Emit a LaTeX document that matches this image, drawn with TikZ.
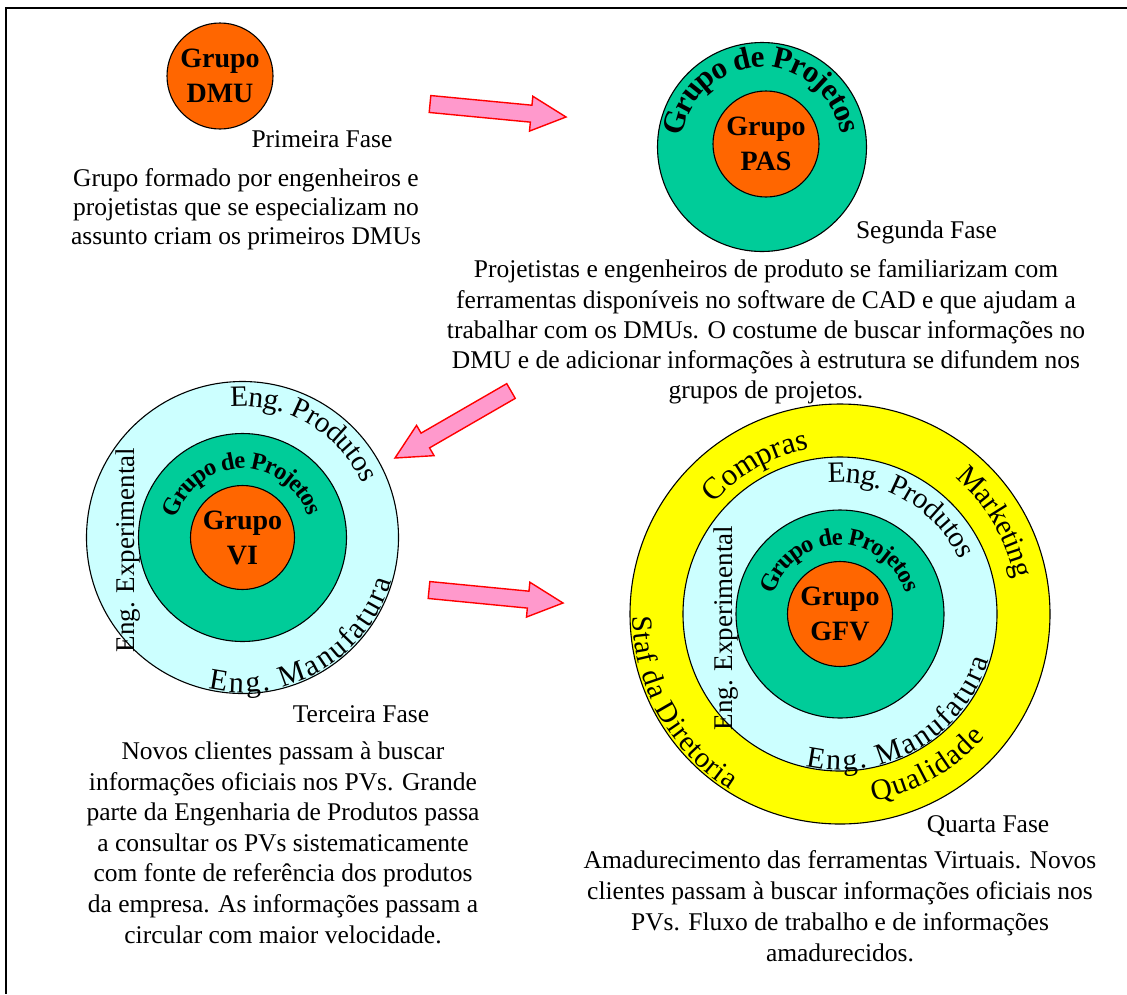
\documentclass[tikz,border=0pt]{standalone}
\usepackage{fontspec}
\setmainfont{Liberation Serif}
\usetikzlibrary{calc,decorations.text}
\definecolor{orangeC}{HTML}{FF6600}
\definecolor{greenC}{HTML}{00CC99}
\definecolor{cyanC}{HTML}{CCFFFF}
\definecolor{yellowC}{HTML}{FFFF00}
\definecolor{pinkC}{HTML}{FF99CC}
\definecolor{redC}{HTML}{FF0000}
\tikzset{
  ring/.style={draw=black, line width=1.1pt},
  fase/.style={font=\fontsize{25.5}{30.5}\selectfont, inner sep=0pt, anchor=base},
  desc/.style={font=\fontsize{25.5}{#1}\selectfont, align=center, inner sep=0pt, anchor=north},
  grp/.style={font=\fontsize{28}{35}\selectfont\bfseries, align=center, inner sep=0pt},
  vlabel/.style={font=\fontsize{27}{27}\selectfont, inner sep=0pt, rotate=90},
  blockarrowstyle/.style={fill=pinkC, draw=redC, line width=1.4pt, line join=miter},
  arctext/.style 2 args={decorate, decoration={text along path, text align=fit to path, raise=#2, text={#1}}},
}
\newcommand\myblockarrow[2]{%
  \path ($(#2)!35pt!(#1)$) coordinate (#1n);
  \draw[blockarrowstyle]
    ($(#1)!8.5pt!90:(#2)$) -- ($(#1n)!8.5pt!-90:(#1)$) -- ($(#1n)!17.5pt!-90:(#1)$)
    -- (#2) -- ($(#1n)!17.5pt!90:(#1)$) -- ($(#1n)!8.5pt!90:(#1)$)
    -- ($(#1)!8.5pt!-90:(#2)$) -- cycle;}
\begin{document}
\begin{tikzpicture}[x=1pt,y=1pt]
\useasboundingbox[fill=white] (0,0) rectangle (1127,-994);
% frame
\coordinate (fTL) at (6,-8);
\coordinate (fTR) at (1127,-8);
\coordinate (fBL) at (6,-994);
\draw[line width=2pt] (fTR) -- (fTL) -- (fBL);

% ---------- Phase 1 ----------
\coordinate (c1) at (220,-76);
\fill[orangeC] (c1) circle[radius=53];
\draw[ring] (c1) circle[radius=53];
\node[grp] (g1) at (c1) {Grupo\\DMU};
\node[fase] (f1) at (322,-147) {Primeira Fase};
\node[desc=29] (d1) at (246,-168.6) {Grupo formado por engenheiros e\\projetistas que se especializam no\\assunto criam os primeiros DMUs};

% ---------- Phase 2 ----------
\coordinate (c2) at (762,-147);
\coordinate (c2i) at (766,-144);
\fill[greenC] (c2) circle[radius=104.5];
\draw[ring] (c2) circle[radius=104.5];
\fill[orangeC] (c2i) circle[radius=53];
\draw[ring] (c2i) circle[radius=53];
\path[arctext={|\fontsize{31}{31}\selectfont\bfseries|Grupo de Projetos}{-10pt}]
  ($(c2)+(172:90)$) arc[start angle=172, end angle=9.5, radius=90];
\node[grp] (g2) at (c2i) {Grupo\\PAS};
\node[fase] (f2) at (926.5,-238) {Segunda Fase};
\node[desc=30.3] (d2) at (766,-259.6) {Projetistas e engenheiros de produto se familiarizam com\\ferramentas disponíveis no software de CAD e que ajudam a\\trabalhar com os DMUs. O costume de buscar informações no\\DMU e de adicionar informações à estrutura se difundem nos\\grupos de projetos.};

% ---------- Phase 3 ----------
\coordinate (c3) at (242.5,-537.5);
\fill[cyanC] (c3) circle[radius=156];
\draw[ring] (c3) circle[radius=156];
\fill[greenC] (c3) circle[radius=104];
\draw[ring] (c3) circle[radius=104];
\fill[orangeC] (c3) circle[radius=52];
\draw[ring] (c3) circle[radius=52];
\path[arctext={|\fontsize{24.5}{24.5}\selectfont\bfseries|Grupo de Projetos}{-8pt}]
  ($(c3)+(163:77)$) arc[start angle=163, end angle=18, radius=77];
\path[arctext={|\fontsize{29.5}{29.5}\selectfont|Eng. Produtos}{-9.7pt}]
  ($(c3)+(95:141)$) arc[start angle=95, end angle=24.5, radius=141];
\path[arctext={|\fontsize{30}{30}\selectfont|Eng. Manufatura}{-10pt}]
  ($(c3)+(257:145)$) arc[start angle=257, end angle=344, radius=145];
\node[vlabel] (e3) at (128.5,-550) {Eng. Experimental};
\node[grp] (g3) at (c3) {Grupo\\VI};
\node[fase] (f3) at (361,-722) {Terceira Fase};
\node[desc=30.6] (d3) at (283,-741.6) {Novos clientes passam à buscar\\informações oficiais nos PVs. Grande\\parte da Engenharia de Produtos passa\\a consultar os PVs sistematicamente\\com fonte de referência dos produtos\\da empresa. As informações passam a\\circular com maior velocidade.};

% ---------- Phase 4 ----------
\coordinate (c4) at (840,-614);
\fill[yellowC] (c4) circle[radius=210];
\draw[ring] (c4) circle[radius=210];
\fill[cyanC] (c4) circle[radius=157];
\draw[ring] (c4) circle[radius=157];
\fill[greenC] (c4) circle[radius=104];
\draw[ring] (c4) circle[radius=104];
\fill[orangeC] (c4) circle[radius=52.5];
\draw[ring] (c4) circle[radius=52.5];
\path[arctext={|\fontsize{24.5}{24.5}\selectfont\bfseries|Grupo de Projetos}{-8pt}]
  ($(c4)+(163:77)$) arc[start angle=163, end angle=18, radius=77];
\path[arctext={|\fontsize{29.5}{29.5}\selectfont|Eng. Produtos}{-9.7pt}]
  ($(c4)+(95:141)$) arc[start angle=95, end angle=24.5, radius=141];
\path[arctext={|\fontsize{30}{30}\selectfont|Eng. Manufatura}{-10pt}]
  ($(c4)+(257:146)$) arc[start angle=257, end angle=343, radius=146];
\path[arctext={|\fontsize{31}{31}\selectfont|Compras}{-10.2pt}]
  ($(c4)+(138.5:178)$) arc[start angle=138.5, end angle=100.5, radius=178];
\path[arctext={|\fontsize{29.5}{29.5}\selectfont|Marketing}{-9.7pt}]
  ($(c4)+(49.5:188)$) arc[start angle=49.5, end angle=11.5, radius=188];
\path[arctext={|\fontsize{29}{29}\selectfont|Staf da Diretoria}{-9.6pt}]
  ($(c4)+(180.5:198)$) arc[start angle=180.5, end angle=238, radius=198];
\path[arctext={|\fontsize{29.5}{29.5}\selectfont|Qualidade}{-9.7pt}]
  ($(c4)+(280:180)$) arc[start angle=280, end angle=320, radius=180];
\node[vlabel] (e4) at (726,-628) {Eng. Experimental};
\node[grp] (g4) at (c4) {Grupo\\GFV};
\node[fase] (f4) at (988,-832) {Quarta Fase};
\node[desc=31] (d4) at (840,-850.6) {Amadurecimento das ferramentas Virtuais. Novos\\clientes passam à buscar informações oficiais nos\\PVs. Fluxo de trabalho e de informações\\amadurecidos.};

% ---------- block arrows ----------
\coordinate (ar1) at (430,-104);
\coordinate (ar1h) at (566,-117);
\myblockarrow{ar1}{ar1h}
\coordinate (ar2) at (511,-391);
\coordinate (ar2h) at (395,-458);
\myblockarrow{ar2}{ar2h}
\coordinate (ar3) at (429,-590);
\coordinate (ar3h) at (563,-603);
\myblockarrow{ar3}{ar3h}
\end{tikzpicture}
\end{document}
